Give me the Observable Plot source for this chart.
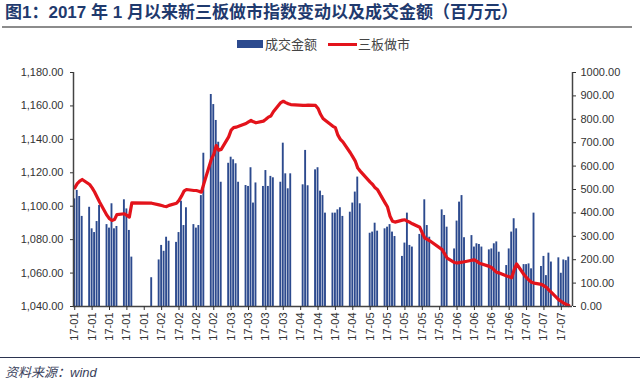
<!DOCTYPE html>
<html>
<head>
<meta charset="utf-8">
<script src="https://cdn.jsdelivr.net/npm/d3@7"></script>
<script src="https://cdn.jsdelivr.net/npm/@observablehq/plot@0.6"></script>
<style>
  html, body { margin: 0; padding: 0; background: #fff; }
  body { width: 640px; height: 386px; overflow: hidden; font-family: "Liberation Sans", "Noto Sans CJK SC", sans-serif; }
  #title { height: 26px; margin: 0 8px 0 2px; border-bottom: 2px solid #8c8c8c; padding-left: 3px;
           font: bold 17px "Liberation Sans", "Noto Sans CJK SC", sans-serif; color: #1f3a6e; line-height: 26px; white-space: nowrap; }
  #legend { position: relative; height: 32px; font: 13px "Noto Sans CJK SC", sans-serif; color: #444; }
  #legend .sw { position: absolute; }
  #legend .lb { position: absolute; top: 7px; line-height: 18px; }
  #chart { height: 297px; }
  #chart svg { display: block; }
  #caption { border-top: 1px solid #2b3450; height: 28px; padding-left: 5px; padding-top: 7px; box-sizing: border-box; font: italic 13px "Liberation Sans", "Noto Sans CJK SC", sans-serif; color: #3a3f5c; line-height: 15px; }
</style>
</head>
<body>
<div id="title">图1：2017 年 1 月以来新三板做市指数变动以及成交金额（百万元）</div>
<div id="legend">
  <div class="sw" style="left:237px;top:12px;width:26px;height:8px;background:#2c4a8e"></div>
  <div class="lb" style="left:265px">成交金额</div>
  <div class="sw" style="left:328px;top:15px;width:29px;height:3px;background:#e3131b"></div>
  <div class="lb" style="left:358px">三板做市</div>
</div>
<div id="chart"></div>
<div id="caption">资料来源：wind</div>
<script>
// Trading days
const dates = [
  "2017-01-03","2017-01-04","2017-01-05","2017-01-06",
  "2017-01-09","2017-01-10","2017-01-11","2017-01-12","2017-01-13",
  "2017-01-16","2017-01-17","2017-01-18","2017-01-19","2017-01-20",
  "2017-01-23","2017-01-24","2017-01-25","2017-01-26",
  "2017-02-03",
  "2017-02-06","2017-02-07","2017-02-08","2017-02-09","2017-02-10",
  "2017-02-13","2017-02-14","2017-02-15","2017-02-16","2017-02-17",
  "2017-02-20","2017-02-21","2017-02-22","2017-02-23","2017-02-24",
  "2017-02-27","2017-02-28","2017-03-01","2017-03-02","2017-03-03",
  "2017-03-06","2017-03-07","2017-03-08","2017-03-09","2017-03-10",
  "2017-03-13","2017-03-14","2017-03-15","2017-03-16","2017-03-17",
  "2017-03-20","2017-03-21","2017-03-22","2017-03-23","2017-03-24",
  "2017-03-27","2017-03-28","2017-03-29","2017-03-30","2017-03-31",
  "2017-04-05","2017-04-06","2017-04-07",
  "2017-04-10","2017-04-11","2017-04-12","2017-04-13","2017-04-14",
  "2017-04-17","2017-04-18","2017-04-19","2017-04-20","2017-04-21",
  "2017-04-24","2017-04-25","2017-04-26","2017-04-27","2017-04-28",
  "2017-05-02","2017-05-03","2017-05-04","2017-05-05",
  "2017-05-08","2017-05-09","2017-05-10","2017-05-11","2017-05-12",
  "2017-05-15","2017-05-16","2017-05-17","2017-05-18","2017-05-19",
  "2017-05-22","2017-05-23","2017-05-24","2017-05-25","2017-05-26",
  "2017-05-31","2017-06-01","2017-06-02",
  "2017-06-05","2017-06-06","2017-06-07","2017-06-08","2017-06-09",
  "2017-06-12","2017-06-13","2017-06-14","2017-06-15","2017-06-16",
  "2017-06-19","2017-06-20","2017-06-21","2017-06-22","2017-06-23",
  "2017-06-26","2017-06-27","2017-06-28","2017-06-29","2017-06-30",
  "2017-07-03","2017-07-04","2017-07-05","2017-07-06","2017-07-07",
  "2017-07-10","2017-07-11","2017-07-12","2017-07-13","2017-07-14",
  "2017-07-17","2017-07-18","2017-07-19","2017-07-20","2017-07-21"
];

// 成交金额 (百万元), right axis
const turnover = [
  460, 496, 470, 385,
  424, 332, 316, 363, 432,
  350, 335, 439, 332, 342,
  456, 417, 325, 211,
  123,
  199, 261, 236, 296, 279,
  274, 316, 450, 346, 422,
  350, 335, 346, 474, 655,
  906, 863, 795, 702, 531,
  612, 638, 627, 610, 531,
  517, 513, 593, 442, 528,
  513, 581, 513, 556, 550,
  531, 698, 567, 503, 567,
  520, 667, 516,
  584, 593, 493, 474, 399,
  399, 399, 413, 422, 385,
  403, 442, 489, 553, 439,
  313, 318, 356, 322,
  332, 339, 350, 318, 299,
  214, 271, 399, 261, 254,
  308, 318, 456, 346, 296,
  413, 389, 339,
  246, 365, 446, 474, 294,
  303, 254, 268, 265, 254,
  242, 246, 268, 276, 232,
  175, 246, 318, 375, 332,
  179, 179, 182, 161, 399,
  171, 214, 132, 228, 190,
  208, 142, 199, 196, 211
];

// 三板做市 index, left axis
const indexValues = [
  1111, 1113.5, 1115, 1116,
  1113, 1111, 1108.5, 1105.5, 1102.5,
  1094.5, 1092.5, 1091.5, 1092, 1095,
  1095.5, 1094.5, 1093.5, 1102,
  1101.8,
  1100.8, 1100.4, 1100, 1099.8, 1100.5,
  1101.8, 1103.5, 1106, 1109, 1110,
  1109.4, 1109.4, 1109, 1108.4, 1113.4,
  1128, 1131, 1136.3, 1133.5, 1134,
  1141.5, 1145.5, 1147, 1147.3, 1147.8,
  1149.5, 1150.5, 1151.3, 1150.5, 1149.9,
  1150.9, 1152, 1153.3, 1154, 1156.5,
  1162, 1162.8, 1162, 1161.3, 1160.8,
  1160.3, 1160.3, 1160.5,
  1160.3, 1158.5, 1155, 1152.5, 1151.3,
  1147.8, 1147, 1142.5, 1140, 1138.5,
  1132, 1129.5, 1127, 1122.8, 1121,
  1114.4, 1113, 1111, 1109.8,
  1102, 1099.5, 1094, 1091, 1090.5,
  1091.7, 1091.9, 1091, 1090.4, 1089.5,
  1087.4, 1084, 1081, 1080.2, 1079.3,
  1074, 1071.5, 1069,
  1066.3, 1066, 1066.3, 1066.5, 1066.8,
  1067.7, 1067.9, 1067, 1065.9, 1065.4,
  1064, 1063.2, 1061.7, 1060.4, 1060.1,
  1058.3, 1057.8, 1057.2, 1062, 1065.5,
  1059, 1057.3, 1055.7, 1054.5, 1054,
  1053.2, 1052.4, 1051.5, 1049.8, 1048.4,
  1044, 1043, 1042, 1041.2, 1040.6
];

// Axis ticks
const leftTicks = [1040, 1060, 1080, 1100, 1120, 1140, 1160, 1180];
const rightTicks = [0, 100, 200, 300, 400, 500, 600, 700, 800, 900, 1000];
const xTickDates = [
  "2017-01-03","2017-01-10","2017-01-17","2017-01-24","2017-01-31",
  "2017-02-07","2017-02-14","2017-02-21","2017-02-28",
  "2017-03-07","2017-03-14","2017-03-21","2017-03-28",
  "2017-04-04","2017-04-11","2017-04-18","2017-04-25",
  "2017-05-02","2017-05-09","2017-05-16","2017-05-23","2017-05-30",
  "2017-06-06","2017-06-13","2017-06-20","2017-06-27",
  "2017-07-04","2017-07-11","2017-07-18"
];

const leftMin = 1040, leftMax = 1180, rightMin = 0, rightMax = 1000;
const toRight = v => rightMin + (v - leftMin) / (leftMax - leftMin) * (rightMax - rightMin);
const fromRight = v => leftMin + (v - rightMin) / (rightMax - rightMin) * (leftMax - leftMin);

const parse = d3.utcParse("%Y-%m-%d");
const DAY = 864e5;
const data = dates.map((d, i) => ({ date: parse(d), vol: turnover[i], idx: toRight(indexValues[i]) }));
const xDomain = [new Date(Date.UTC(2017, 0, 2, 12)), new Date(Date.UTC(2017, 6, 22, 12))];

const chart = Plot.plot({
  width: 640,
  height: 297,
  marginTop: 12,
  marginBottom: 51,
  marginLeft: 73,
  marginRight: 68,
  x: { type: "utc", domain: xDomain },
  y: { domain: [rightMin, rightMax] },
  style: { fontFamily: "Liberation Sans, Arial, sans-serif", fontSize: "11px", color: "#333", background: "#fff" },
  marks: [
    Plot.rectY(data, {
      x1: d => new Date(+d.date - 0.5 * DAY),
      x2: d => new Date(+d.date + 0.5 * DAY),
      y: "vol",
      fill: "#2c4a8e",
      insetLeft: 0.3,
      insetRight: 0.3
    }),
    Plot.line(data, { x: "date", y: "idx", stroke: "#e3131b", strokeWidth: 3.2, strokeLinejoin: "round" }),
    Plot.ruleX(xDomain, { stroke: "#444", strokeWidth: 1.5 }),
    Plot.ruleY([0], { stroke: "#444", strokeWidth: 1.5 }),
    Plot.axisY(leftTicks.map(toRight), {
      anchor: "left", tickSize: 3, tickPadding: 7, label: null,
      tickFormat: d => d3.format(",.2f")(Math.round(fromRight(d)))
    }),
    Plot.axisY(rightTicks, {
      anchor: "right", tickSize: 3, tickPadding: 5, label: null,
      tickFormat: d3.format(".2f")
    }),
    Plot.axisX(xTickDates.map(parse), {
      anchor: "bottom", tickSize: 4, tickPadding: 2, tickRotate: -90, label: null,
      tickFormat: d3.utcFormat("%y-%m")
    })
  ]
});
document.getElementById("chart").appendChild(chart);
</script>
</body>
</html>
